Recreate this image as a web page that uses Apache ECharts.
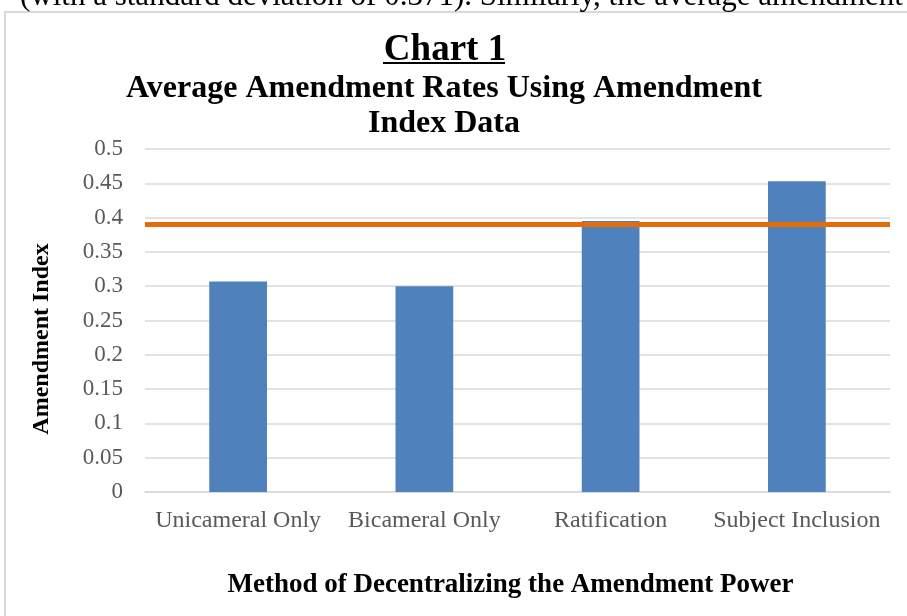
<!DOCTYPE html>
<html><head><meta charset="utf-8">
<script src="https://cdn.jsdelivr.net/npm/echarts@6/dist/echarts.min.js"></script>
<style>html,body{margin:0;padding:0;background:#fff;}#c{width:907px;height:616px;}</style>
</head><body><div id="c"></div>
<script>
const categories = ["Unicameral Only", "Bicameral Only", "Ratification", "Subject Inclusion"];
const values = [0.307, 0.300, 0.395, 0.453];
const averageValue = 0.389;
const yTicks = [0, 0.05, 0.1, 0.15, 0.2, 0.25, 0.3, 0.35, 0.4, 0.45, 0.5];

const F = '"Liberation Serif", "Times New Roman", serif';
const chart = echarts.init(document.getElementById('c'), null, {renderer: 'canvas'});
chart.setOption({
  backgroundColor: '#fff',
  animation: false,
  title: [
    {text: 'Chart 1', left: 440, top: 27, textAlign: 'center',
     textStyle: {fontFamily: F, fontSize: 37, fontWeight: 'bold', color: '#000'}},
    {text: 'Average Amendment Rates Using Amendment\nIndex Data', left: 439, top: 66, textAlign: 'center',
     textStyle: {fontFamily: F, fontSize: 32, fontWeight: 'bold', color: '#000', lineHeight: 35}}
  ],
  graphic: [
    {type: 'rect', shape: {x: 5, y: 12, width: 920, height: 620}, style: {fill: 'none', stroke: '#D9D9D9', lineWidth: 2}},
    {type: 'text', left: 20, top: -19, style: {text: '(with a standard deviation of 0.371). Similarly, the average amendment', font: '31px ' + F, fill: '#000'}},
    {type: 'rect', shape: {x: 383, y: 62, width: 122, height: 2}, style: {fill: '#000'}},
    {type: 'text', x: 42, y: 339, rotation: Math.PI / 2,
     style: {text: 'Amendment Index', font: 'bold 24px ' + F, fill: '#000', align: 'center', verticalAlign: 'middle'}}
  ],
  grid: {left: 145, right: 17, top: 149, bottom: 124},
  xAxis: {
    type: 'category', data: categories,
    axisLine: {lineStyle: {color: '#D9D9D9', width: 1.5}},
    axisTick: {show: false},
    axisLabel: {fontFamily: F, fontSize: 24, color: '#595959', margin: 17, interval: 0},
    name: 'Method of Decentralizing the Amendment Power',
    nameLocation: 'middle', nameGap: 80,
    nameTextStyle: {fontFamily: F, fontSize: 27, fontWeight: 'bold', color: '#000', padding: [0, 14, 0, 0]}
  },
  yAxis: {
    type: 'value', min: 0, max: 0.5, interval: 0.05,
    axisLine: {show: false}, axisTick: {show: false},
    axisLabel: {fontFamily: F, fontSize: 23, color: '#595959', margin: 22,
      formatter: v => { const t = yTicks.find(x => Math.abs(x - v) < 1e-9); return String(t !== undefined ? t : v); }},
    splitLine: {lineStyle: {color: '#D9D9D9', width: 1.5}}
  },
  series: [{
    type: 'bar', data: values, barWidth: '31%',
    itemStyle: {color: '#4F81BD'},
    markLine: {
      silent: true, symbol: ['none', 'none'], label: {show: false},
      lineStyle: {color: '#E36C0A', width: 5, type: 'solid'},
      data: [{yAxis: averageValue}]
    }
  }]
});
</script></body></html>
